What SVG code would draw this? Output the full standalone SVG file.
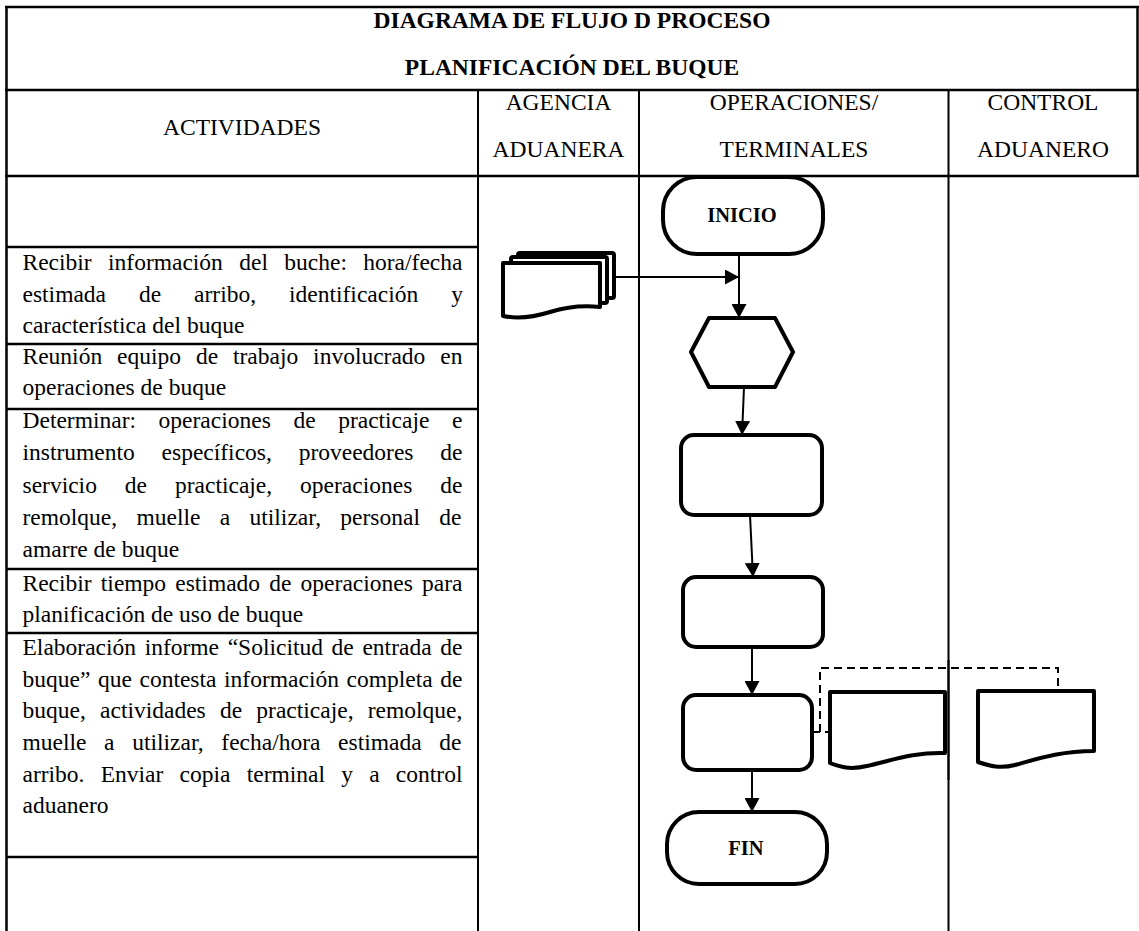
<svg xmlns="http://www.w3.org/2000/svg" width="1139" height="931" viewBox="0 0 1139 931">
<style>
.bg{fill:#fff}
.grid{stroke:#000;stroke-width:2.5;fill:none}
.col{stroke:#000;stroke-width:2;fill:none}
.t{font-family:"Liberation Serif","Times New Roman",serif;font-size:23.5px;fill:#000}
.h{text-anchor:middle}
.b{font-weight:bold}
.shape{fill:#fff;stroke:#000;stroke-width:4;stroke-linejoin:round}
.lbl{font-family:"Liberation Serif","Times New Roman",serif;font-size:20.5px;font-weight:bold;text-anchor:middle;fill:#000}
.conn{stroke:#000;stroke-width:2;fill:none}
.dash{stroke:#000;stroke-width:2;fill:none;stroke-dasharray:8,5}
</style>
<defs>
<marker id="arr" markerUnits="userSpaceOnUse" markerWidth="14" markerHeight="15" refX="14" refY="7.5" orient="auto">
<path d="M0,0 L14,7.5 L0,15 Z" fill="#000"/>
</marker>
</defs>
<rect class="bg" x="0" y="0" width="1139" height="931"/>

<g id="table">
<line class="grid" x1="5" y1="7" x2="1139" y2="7"/>
<line class="grid" x1="5" y1="90" x2="1139" y2="90"/>
<line class="grid" x1="5" y1="176" x2="1139" y2="176"/>
<line class="grid" x1="6.5" y1="6" x2="6.5" y2="931"/>
<line class="grid" x1="1137.5" y1="6" x2="1137.5" y2="177"/>
<line class="col" x1="478" y1="90" x2="478" y2="931"/>
<line class="col" x1="639" y1="90" x2="639" y2="931"/>
<line class="col" x1="948.5" y1="90" x2="948.5" y2="931"/>
<line class="grid" x1="6" y1="247" x2="478" y2="247"/>
<line class="grid" x1="6" y1="344" x2="478" y2="344"/>
<line class="grid" x1="6" y1="409" x2="478" y2="409"/>
<line class="grid" x1="6" y1="569" x2="478" y2="569"/>
<line class="grid" x1="6" y1="633" x2="478" y2="633"/>
<line class="grid" x1="6" y1="857" x2="478" y2="857"/>
</g>

<g id="titles">
<text class="t h b" x="572" y="28">DIAGRAMA DE FLUJO D PROCESO</text>
<text class="t h b" x="572" y="75">PLANIFICACIÓN DEL BUQUE</text>
<text class="t h" x="242" y="135">ACTIVIDADES</text>
<text class="t h" x="558.5" y="110">AGENCIA</text>
<text class="t h" x="558.5" y="157">ADUANERA</text>
<text class="t h" x="794" y="110">OPERACIONES/</text>
<text class="t h" x="794" y="157">TERMINALES</text>
<text class="t h" x="1043" y="110">CONTROL</text>
<text class="t h" x="1043" y="157">ADUANERO</text>
</g>

<g id="activities">
<text class="t" x="22.5" y="270" style="word-spacing:10.48px">Recibir información del buche: hora/fecha</text>
<text class="t" x="22.5" y="302" style="word-spacing:27.07px">estimada de arribo, identificación y</text>
<text class="t" x="22.5" y="333">característica del buque</text>
<text class="t" x="22.5" y="364" style="word-spacing:9.02px">Reunión equipo de trabajo involucrado en</text>
<text class="t" x="22.5" y="395">operaciones de buque</text>
<text class="t" x="22.5" y="428" style="word-spacing:16.69px">Determinar: operaciones de practicaje e</text>
<text class="t" x="22.5" y="460" style="word-spacing:20.92px">instrumento específicos, proveedores de</text>
<text class="t" x="22.5" y="492.5" style="word-spacing:22.07px">servicio de practicaje, operaciones de</text>
<text class="t" x="22.5" y="525" style="word-spacing:13.47px">remolque, muelle a utilizar, personal de</text>
<text class="t" x="22.5" y="557">amarre de buque</text>
<text class="t" x="22.5" y="591" style="word-spacing:3.29px">Recibir tiempo estimado de operaciones para</text>
<text class="t" x="22.5" y="622">planificación de uso de buque</text>
<text class="t" x="22.5" y="655" style="word-spacing:2.76px">Elaboración informe “Solicitud de entrada de</text>
<text class="t" x="22.5" y="687" style="word-spacing:1.72px">buque” que contesta información completa de</text>
<text class="t" x="22.5" y="718" style="word-spacing:8.35px">buque, actividades de practicaje, remolque,</text>
<text class="t" x="22.5" y="750" style="word-spacing:11.77px">muelle a utilizar, fecha/hora estimada de</text>
<text class="t" x="22.5" y="782" style="word-spacing:10.35px">arribo. Enviar copia terminal y a control</text>
<text class="t" x="22.5" y="813">aduanero</text>
</g>

<g id="connectors">
<path class="conn" d="M614,277 H739" marker-end="url(#arr)"/>
<path class="conn" d="M739,254 V318" marker-end="url(#arr)"/>
<path class="conn" d="M744,387 L742,435" marker-end="url(#arr)"/>
<path class="conn" d="M750,515 L753,577" marker-end="url(#arr)"/>
<path class="conn" d="M752,647 V695" marker-end="url(#arr)"/>
<path class="conn" d="M752,770 V812" marker-end="url(#arr)"/>
<path class="dash" d="M812,732 H830 M820,732 V668 H1058 V691"/>
</g>

<g id="inicio">
<rect class="shape" x="663" y="177" width="160" height="77" rx="34" ry="34"/>
<text class="lbl" x="742" y="222">INICIO</text>
</g>

<g id="docs-agencia">
<rect class="shape" x="518" y="253" width="96" height="45" rx="2"/>
<rect class="shape" x="511" y="257" width="96" height="46" rx="2"/>
<path class="shape" d="M503,263 H600 V307 C582,305 566,307 550,312 C534,317 518,319 503,316 Z"/>
</g>

<g id="decision">
<polygon class="shape" points="709,318 775,318 793,352 775,387 709,387 691,352"/>
</g>

<g id="proceso1">
<rect class="shape" x="681" y="435" width="141" height="80" rx="13"/>
</g>

<g id="proceso2">
<rect class="shape" x="683" y="577" width="140" height="70" rx="13"/>
</g>

<g id="proceso3">
<rect class="shape" x="683" y="695" width="129" height="75" rx="13"/>
</g>

<g id="doc-terminal">
<path class="shape" d="M830,692 H945 V753 C915,752 893,760 867,766 C850,770 840,767 830,763 Z"/>
</g>

<g id="doc-control">
<path class="shape" d="M978,691 H1094 V751 C1062,751 1040,758 1015,765 C1000,769 990,766 978,762 Z"/>
</g>

<line class="col" x1="948.5" y1="660" x2="948.5" y2="780"/>

<g id="fin">
<rect class="shape" x="667" y="812" width="160" height="72" rx="32" ry="32"/>
<text class="lbl" x="746" y="855">FIN</text>
</g>
</svg>
